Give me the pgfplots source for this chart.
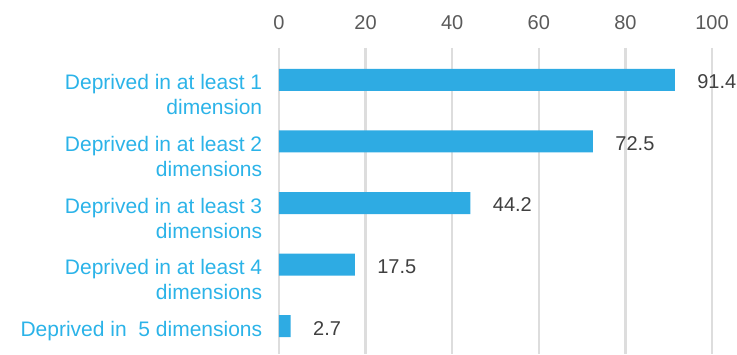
\documentclass[border=0pt]{standalone}
\usepackage{pgfplots}
\pgfplotsset{compat=1.18}
\usepackage{fontspec}
\setmainfont{Liberation Sans}
\usetikzlibrary{calc}
\definecolor{barblue}{HTML}{2EABE3}
\definecolor{lblblue}{HTML}{2BB3E8}
\definecolor{valgray}{HTML}{404040}
\definecolor{tickgray}{HTML}{5A5A5A}
\definecolor{gridgray}{HTML}{DDDDDD}
\begin{document}
\begin{tikzpicture}
\begin{axis}[
  name=ax,
  scale only axis,
  width=433pt, height=306pt,
  xmin=0, xmax=100,
  ymin=-0.52, ymax=4.455,
  y dir=reverse,
  xbar, bar width=22pt,
  axis line style={draw=none},
  tick style={draw=none},
  xtick={0,20,40,60,80,100},
  xticklabel pos=top,
  xmajorgrids,
  grid style={gridgray, line width=2.5pt},
  xticklabel style={font=\fontsize{20}{24}\selectfont, text=tickgray, yshift=15pt},
  /pgf/number format/assume math mode=true,
  ytick={0,1,2,3,4},
  yticklabels={{Deprived in at least 1\\dimension},{Deprived in at least 2\\dimensions},{Deprived in at least 3\\dimensions},{Deprived in at least 4\\dimensions},{Deprived in~ 5 dimensions\\\mbox{}}},
  yticklabel style={align=right, anchor=base east, font=\fontsize{21}{25}\selectfont, text=lblblue, xshift=-9pt, yshift=-35pt},
  nodes near coords,
  nodes near coords style={font=\fontsize{20}{24}\selectfont, text=valgray, anchor=west, xshift=19pt, yshift=-2pt},
  point meta=explicit symbolic,
  clip=false,
]
\addplot[fill=barblue, draw=none] coordinates {(91.4,0)[91.4] (72.5,1)[72.5] (44.2,2)[44.2] (17.5,3)[17.5] (2.7,4)[2.7]};
\end{axis}
\pgfresetboundingbox
\path[use as bounding box] ($(ax.south west)+(-279pt,0)$) rectangle ($(ax.north east)+(25pt,48pt)$);
\end{tikzpicture}
\end{document}
